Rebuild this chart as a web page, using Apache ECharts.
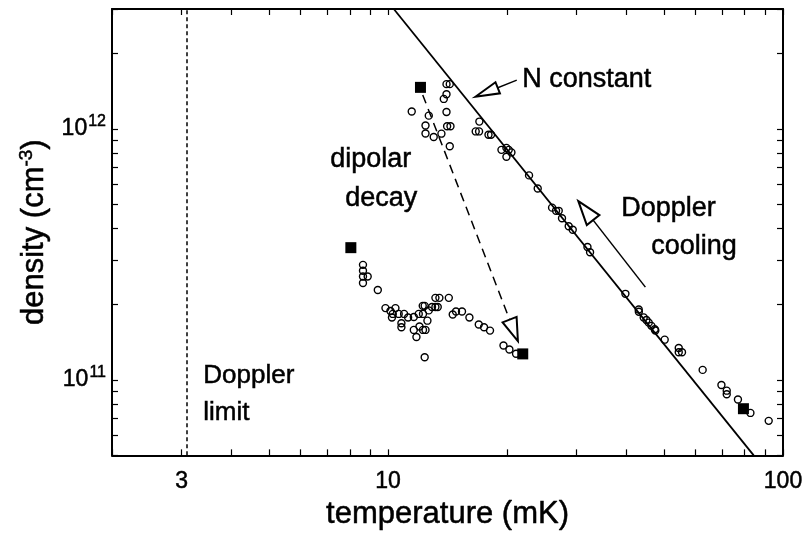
<!DOCTYPE html>
<html>
<head>
<meta charset="utf-8">
<script src="https://cdn.jsdelivr.net/npm/echarts@6/dist/echarts.min.js"></script>
<style>
  html, body { margin: 0; padding: 0; background: #fff; }
  #main { width: 808px; height: 535px; }
</style>
</head>
<body>
<div id="main"></div>
<script>
// circles before / along doppler cooling (temperature mK, density cm-3)
const upperT = [14.06, 14.33, 14.06, 13.84, 11.48, 14.06, 12.68, 17.03, 12.44, 14.11,
  14.39, 16.67, 17.0, 17.96, 18.23, 12.44, 13.05, 13.65, 14.33, 19.37,
  19.94, 19.94, 20.53, 20.21, 22.75, 23.93, 26.02, 26.63, 27.05, 27.57,
  28.67, 29.35, 31.98, 32.47, 39.9, 43.12, 43.15, 44.39, 45.10, 45.71,
  46.43, 47.34, 47.5, 50.17, 54.45, 54.45, 55.5, 62.6, 69.84, 72.03,
  72.03, 76.9, 82.7, 92.0];
const upperN = [1.506e12, 1.506e12, 1.372e12, 1.315e12, 1.172e12, 1.166e12, 1.128e12, 1.068e12, 1.030e12, 1.024e12,
  1.024e12, 9.76e11, 9.76e11, 9.47e11, 9.47e11, 9.58e11, 9.27e11, 9.56e11, 8.52e11, 8.24e11,
  8.39e11, 7.74e11, 8.05e11, 8.24e11, 6.52e11, 5.78e11, 4.85e11, 4.71e11, 4.71e11, 4.40e11,
  4.09e11, 3.96e11, 3.38e11, 3.22e11, 2.20e11, 1.905e11, 1.866e11, 1.772e11, 1.731e11, 1.689e11,
  1.640e11, 1.590e11, 1.572e11, 1.445e11, 1.339e11, 1.288e11, 1.288e11, 1.095e11, 9.53e10, 9.05e10,
  8.76e10, 8.35e10, 7.38e10, 6.86e10];

// circles after dipolar decay
const lowerT = [8.64, 8.64, 8.64, 8.88, 8.64, 9.42, 9.85, 10.14, 10.44, 10.28,
  10.64, 10.23, 10.98, 11.24, 11.62, 10.81, 10.81, 11.96, 12.26, 12.24,
  12.38, 12.68, 12.92, 13.18, 13.36, 13.18, 13.49, 14.25, 12.58, 12.01,
  12.26, 12.44, 11.62, 11.80, 12.38, 14.58, 14.86, 15.39, 16.07, 16.97,
  17.50, 18.12, 19.60, 20.29, 21.09];
const lowerN = [2.87e11, 2.72e11, 2.58e11, 2.58e11, 2.43e11, 2.28e11, 1.93e11, 1.88e11, 1.93e11, 1.83e11,
  1.83e11, 1.77e11, 1.83e11, 1.77e11, 1.78e11, 1.68e11, 1.62e11, 1.83e11, 1.83e11, 1.97e11,
  1.97e11, 1.89e11, 1.95e11, 1.95e11, 1.95e11, 2.12e11, 2.12e11, 2.12e11, 1.72e11, 1.63e11,
  1.58e11, 1.58e11, 1.58e11, 1.48e11, 1.23e11, 1.82e11, 1.87e11, 1.87e11, 1.77e11, 1.66e11,
  1.62e11, 1.57e11, 1.37e11, 1.32e11, 1.27e11];

// filled squares
const squareT = [12.08, 8.05, 21.93, 79.4];
const squareN = [1.462e12, 3.36e11, 1.268e11, 7.67e10];

// "N constant" line
const nConstT = [10.34, 84.3];
const nConstN = [3.0e12, 5.0e10];

const dopplerLimitT = 3.1;

// arrows: [start, head]
const decayArrow = [[12.24, 1.364e12], [20.81, 1.574e11]];
const coolingArrow = [[44.83, 2.34e11], [31.66, 4.72e11]];
const nConstArrow = [[21.18, 1.562e12], [17.76, 1.398e12]];

const xTicks = [2, 3, 4, 5, 6, 7, 8, 9, 10, 20, 30, 40, 50, 60, 70, 80, 90, 100];
const xLabels = [3, 10, 100];
const yTicks = [5e10, 6e10, 7e10, 8e10, 9e10, 1e11, 2e11, 3e11, 4e11, 5e11, 6e11, 7e11, 8e11, 9e11, 1e12, 2e12, 3e12];
const yLabels = [1e11, 1e12];

const font = '"Liberation Sans", Arial, Helvetica, sans-serif';
const pair = (xs, ys) => xs.map((x, i) => [x, ys[i]]);

const chart = echarts.init(document.getElementById('main'));

const frameLine = { show: true, onZero: false, lineStyle: { color: '#000', width: 2 } };
const tickStyle = (vals) => ({ show: true, inside: true, length: 6, customValues: vals, lineStyle: { color: '#000', width: 1.2 } });
// scanned text looks heavy, thicken a little
const heavy = { textBorderColor: '#000', textBorderWidth: 0.5 };

function arrowSeries(arrow, dashed, size) {
  return {
    type: 'line', data: [], silent: true,
    markLine: {
      silent: true, animation: false,
      symbol: ['none', 'emptyTriangle'],
      symbolSize: size,
      label: { show: false },
      emphasis: { disabled: true },
      lineStyle: { color: '#000', width: 1.5, type: dashed ? [9, 6] : 'solid' },
      data: [[{ coord: arrow[0] }, { coord: arrow[1] }]]
    }
  };
}

function note(text, x, y, size) {
  return {
    type: 'text', left: x, top: y, silent: true,
    style: { text: text, font: size + 'px ' + font, fill: '#000', stroke: '#000', lineWidth: 0.5 }
  };
}

const option = {
  animation: false,
  backgroundColor: '#fff',
  grid: { left: 112, right: 25, top: 9, bottom: 73 },
  xAxis: [{
    type: 'log', min: 2, max: 100, position: 'bottom',
    axisLine: frameLine,
    axisTick: tickStyle(xTicks),
    splitLine: { show: false },
    axisLabel: Object.assign({ customValues: xLabels, color: '#000', fontSize: 23, fontFamily: font, margin: 15 }, heavy),
    name: 'temperature (mK)', nameLocation: 'middle', nameGap: 39,
    nameTextStyle: Object.assign({ color: '#000', fontSize: 31, fontFamily: font }, heavy)
  }, {
    type: 'log', min: 2, max: 100, position: 'top',
    axisLine: frameLine,
    axisTick: tickStyle(xTicks),
    splitLine: { show: false },
    axisLabel: { show: false }
  }],
  yAxis: [{
    type: 'log', min: 5e10, max: 3e12, position: 'left',
    axisLine: frameLine,
    axisTick: tickStyle(yTicks),
    splitLine: { show: false },
    axisLabel: {
      customValues: yLabels, margin: 6, color: '#000', fontFamily: font,
      formatter: (v) => '{b|10}{s|' + Math.round(Math.log10(v)) + '}',
      rich: {
        b: Object.assign({ fontSize: 23, fontFamily: font, color: '#000' }, heavy),
        s: Object.assign({ fontSize: 16, fontFamily: font, color: '#000', padding: [0, 0, 14, 1] }, heavy)
      }
    },
    name: 'density (cm{s|-3})', nameLocation: 'middle', nameGap: 56,
    nameTextStyle: Object.assign({
      color: '#000', fontSize: 31, fontFamily: font,
      rich: { s: Object.assign({ fontSize: 19, fontFamily: font, color: '#000', padding: [0, 0, 15, 0] }, heavy) }
    }, heavy)
  }, {
    type: 'log', min: 5e10, max: 3e12, position: 'right',
    axisLine: frameLine,
    axisTick: tickStyle(yTicks),
    splitLine: { show: false },
    axisLabel: { show: false }
  }],
  series: [
    {
      type: 'line', data: pair(nConstT, nConstN), symbol: 'none', silent: true,
      lineStyle: { color: '#000', width: 1.8 },
      markLine: {
        silent: true, symbol: ['none', 'none'], label: { show: false },
        lineStyle: { color: '#000', width: 1.5, type: [4, 3] },
        data: [{ xAxis: dopplerLimitT }]
      }
    },
    arrowSeries(decayArrow, true, [15, 23]),
    arrowSeries(coolingArrow, false, [16, 24]),
    arrowSeries(nConstArrow, false, [12, 24]),
    {
      type: 'scatter', data: pair(upperT, upperN), symbol: 'circle', symbolSize: 7, silent: true,
      itemStyle: { color: 'rgba(0,0,0,0)', borderColor: '#000', borderWidth: 1.4, opacity: 1 }
    },
    {
      type: 'scatter', data: pair(lowerT, lowerN), symbol: 'circle', symbolSize: 7, silent: true,
      itemStyle: { color: 'rgba(0,0,0,0)', borderColor: '#000', borderWidth: 1.4, opacity: 1 }
    },
    {
      type: 'scatter', data: pair(squareT, squareN), symbol: 'rect', symbolSize: 11, silent: true,
      itemStyle: { color: '#000', opacity: 1 }
    }
  ],
  graphic: [
    note('N constant', 522, 66, 27),
    note('dipolar', 330, 146, 27),
    note('decay', 345, 185, 27),
    note('Doppler', 621, 195, 27),
    note('cooling', 651, 233, 27),
    note('Doppler', 203, 363, 26),
    note('limit', 203, 400, 26)
  ]
};

chart.setOption(option);
</script>
</body>
</html>
